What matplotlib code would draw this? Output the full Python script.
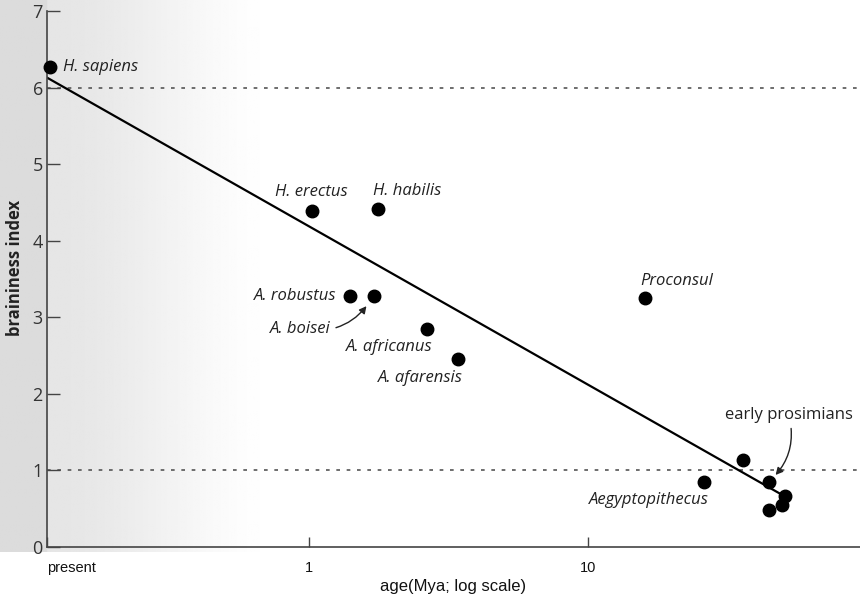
import numpy as np
import matplotlib.pyplot as plt

# age in million years (log scale) and braininess index
species = ["H. sapiens", "H. erectus", "H. habilis", "A. robustus", "A. boisei",
           "A. africanus", "A. afarensis", "Proconsul", "Aegyptopithecus"]
age = [0.118, 1.02, 1.77, 1.40, 1.70, 2.64, 3.42, 15.9, 25.9]
brain = [6.27, 4.39, 4.41, 3.28, 3.28, 2.85, 2.45, 3.25, 0.85]

# early prosimians (unlabelled cluster)
pros_age = [35.8, 44.3, 50.8, 49.2, 44.3]
pros_brain = [1.14, 0.85, 0.67, 0.55, 0.48]

# fitted line end points
fit_age = [0.115, 49.5]
fit_brain = [6.13, 0.68]

ref_levels = [6, 1]
xtick_vals = [0.115, 1, 10]
xtick_labels = ["present", "1", "10"]

# label layout: offset in pixels, horizontal alignment
label_pos = {
    "H. sapiens": ((13, 0), "left"),
    "H. erectus": ((0, 19), "center"),
    "H. habilis": ((-5, 18), "left"),
    "A. robustus": ((-14, 0), "right"),
    "A. boisei": ((-43, -33), "right"),
    "A. africanus": ((-38, -18), "center"),
    "A. afarensis": ((-38, -19), "center"),
    "Proconsul": ((-4, 17), "left"),
    "Aegyptopithecus": ((5, -18), "right"),
}

fig = plt.figure(figsize=(8.6, 6.05), dpi=100)

# scanned-page grey wash on the left
bg = fig.add_axes([0, 1 - 552 / 605, 1, 552 / 605], zorder=-5)
xs = np.linspace(0, 1, 600)
t = np.clip((xs - 0.055) / 0.28, 0, 1)
shade = 0.90 + 0.10 * (3 * t ** 2 - 2 * t ** 3)
shade[xs < 0.055] = 0.86
bg.imshow(np.tile(shade, (10, 1)), cmap="gray", vmin=0, vmax=1, aspect="auto",
          extent=[0, 1, 0, 1])
bg.axis("off")

ax = fig.add_axes([47 / 860, 1 - 547 / 605, 1 - 47 / 860, 536 / 605])
ax.patch.set_alpha(0)
ax.set_xscale("log")
ax.set_xlim(0.115, 94)
ax.set_ylim(0, 7)

for lv in ref_levels:
    ax.axhline(lv, color="#555555", lw=1.2, dashes=(2.2, 4), zorder=1)

ax.plot(fit_age, fit_brain, color="black", lw=1.6, zorder=2)
ax.plot(age, brain, "o", color="black", ms=9, zorder=3, clip_on=False)
ax.plot(pros_age, pros_brain, "o", color="black", ms=9, zorder=3)

lab_font = dict(family=["Open Sans", "DejaVu Sans"], style="italic", fontsize=12,
                color="#222222")
for name, a, b in zip(species, age, brain):
    off, ha = label_pos[name]
    if name == "A. boisei":
        ax.annotate(name, (a, b), xytext=off, textcoords="offset pixels",
                    ha=ha, va="center", **lab_font,
                    arrowprops=dict(arrowstyle="-|>,head_length=0.35,head_width=0.18",
                                    color="#222222", lw=1, shrinkA=2, shrinkB=9,
                                    connectionstyle="arc3,rad=0.35"))
    else:
        ax.annotate(name, (a, b), xytext=off, textcoords="offset pixels",
                    ha=ha, va="center", **lab_font)

ax.annotate("early prosimians", (pros_age[1], pros_brain[1]), xytext=(20, 67),
            textcoords="offset pixels", ha="center", va="center",
            family=["Open Sans", "DejaVu Sans"], fontsize=12, color="#222222",
            arrowprops=dict(arrowstyle="-|>,head_length=0.35,head_width=0.18",
                            color="#222222", lw=1, shrinkA=2, shrinkB=7,
                            connectionstyle="arc3,rad=-0.3"))

for s in ["top", "right"]:
    ax.spines[s].set_visible(False)
for s in ["left", "bottom"]:
    ax.spines[s].set_color("#444444")
    ax.spines[s].set_linewidth(1.2)

ax.set_yticks(range(8))
ax.tick_params(axis="y", direction="in", length=9, width=1, color="#444444",
               labelsize=13, labelcolor="#333333", pad=3)
for t in ax.get_yticklabels():
    t.set_family(["Open Sans", "DejaVu Sans"])

ax.set_xticks(xtick_vals)
ax.set_xticklabels(xtick_labels)
ax.xaxis.set_minor_locator(plt.NullLocator())
ax.tick_params(axis="x", direction="in", length=7, width=1, color="#444444",
               labelsize=10.5, labelcolor="#111111", pad=10)
for t in ax.get_xticklabels():
    t.set_family(["Liberation Sans", "DejaVu Sans"])
ax.get_xticklabels()[0].set_ha("left")

ax.set_xlabel("age(Mya; log scale)", family=["Liberation Sans", "DejaVu Sans"],
              fontsize=12, color="#111111", labelpad=3)
ax.set_ylabel("braininess index", family=["Open Sans", "DejaVu Sans"],
              fontsize=12, fontweight="bold", color="#222222")
ax.yaxis.set_label_coords(-0.028, 0.52)

fig.savefig("out.png", dpi=100)
